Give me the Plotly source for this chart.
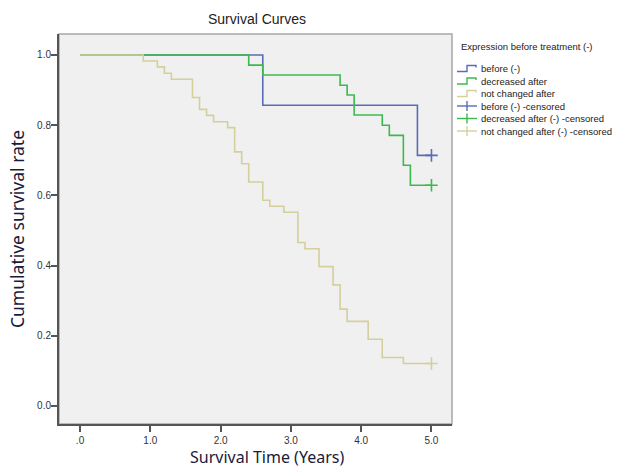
import plotly.graph_objects as go

# ---- data ----
before_t = [0.0, 2.6, 4.8, 5.0]
before_s = [1.0, 0.857, 0.714, 0.714]

decreased_t = [0.0, 2.4, 2.6, 3.7, 3.8, 3.9, 4.3, 4.4, 4.6, 4.7, 5.0]
decreased_s = [1.0, 0.971, 0.943, 0.914, 0.886, 0.829, 0.800, 0.771, 0.686, 0.629, 0.629]

notchanged_t = [0.0, 0.9, 1.1, 1.2, 1.3, 1.6, 1.7, 1.8, 1.9, 2.1, 2.2, 2.3, 2.4, 2.6, 2.7,
                2.9, 3.1, 3.2, 3.4, 3.6, 3.7, 3.8, 4.1, 4.3, 4.6, 5.0]
notchanged_s = [1.0, 0.983, 0.966, 0.948, 0.931, 0.879, 0.845, 0.828, 0.810, 0.793, 0.724,
                0.690, 0.638, 0.586, 0.569, 0.552, 0.466, 0.448, 0.397, 0.345, 0.276, 0.241,
                0.190, 0.138, 0.121, 0.121]

censor_t = [5.0, 5.0, 5.0]
censor_s = [0.714, 0.629, 0.121]

series_names = ["before (-)", "decreased after", "not changed after"]
censor_names = ["before (-) -censored", "decreased after (-) -censored",
                "not changed after (-) -censored"]
x_tickvals = [0, 1, 2, 3, 4, 5]
x_ticktext = [".0", "1.0", "2.0", "3.0", "4.0", "5.0"]
y_tickvals = [0.0, 0.2, 0.4, 0.6, 0.8, 1.0]
y_ticktext = ["0.0", "0.2", "0.4", "0.6", "0.8", "1.0"]

colors = ["#5a6cb8", "#3cb94e", "#d4cf9b"]

W, H = 628, 468
L, R, T, B = 59, 452, 34, 424  # plot frame in px

fig = go.Figure()
curves = [(before_t, before_s), (decreased_t, decreased_s), (notchanged_t, notchanged_s)]
for (t, s), name, c in zip(curves, series_names, colors):
    fig.add_trace(go.Scatter(x=t, y=s, mode="lines", line=dict(color=c, width=1.6, shape="hv"),
                             name=name, showlegend=False, hoverinfo="x+y+name"))
for i, (name, c) in enumerate(zip(censor_names, colors)):
    fig.add_trace(go.Scatter(x=[censor_t[i]], y=[censor_s[i]], mode="markers",
                             marker=dict(symbol="cross-thin", size=9, line=dict(color=c, width=1.6)),
                             name=name, showlegend=False))

def px2x(px):
    return (px - L) / (R - L)

def py2y(py):
    return (B - py) / (B - T)

shapes = [dict(type="rect", xref="paper", yref="paper", x0=0, x1=1, y0=0, y1=1,
               line=dict(color="#a6a6a6", width=1.5), layer="below")]
annotations = []

LEG_FONT = dict(size=9.5, color="#222", family="Liberation Sans")
annotations.append(dict(text="Expression before treatment (-)", xref="paper", yref="paper",
                        x=px2x(459), y=py2y(46), xanchor="left", yanchor="middle",
                        showarrow=False, font=LEG_FONT))
legend_rows = [68.5, 81, 93.5, 106, 118.5, 131]
names_all = series_names + censor_names
cols_all = colors + colors
for k, (yy, name, c) in enumerate(zip(legend_rows, names_all, cols_all)):
    if k < 3:
        path = "M {} {} L {} {} L {} {} L {} {} L {} {}".format(
            px2x(457), py2y(yy + 3), px2x(467), py2y(yy + 3), px2x(467), py2y(yy - 3),
            px2x(476), py2y(yy - 3), px2x(476), py2y(yy - 1))
        shapes.append(dict(type="path", xref="paper", yref="paper", path=path,
                           line=dict(color=c, width=1.4)))
    else:
        shapes.append(dict(type="line", xref="paper", yref="paper", x0=px2x(457), x1=px2x(477),
                           y0=py2y(yy), y1=py2y(yy), line=dict(color=c, width=1.4)))
        shapes.append(dict(type="line", xref="paper", yref="paper", x0=px2x(467), x1=px2x(467),
                           y0=py2y(yy - 5), y1=py2y(yy + 5), line=dict(color=c, width=1.4)))
    annotations.append(dict(text=name, xref="paper", yref="paper", x=px2x(479), y=py2y(yy),
                            xanchor="left", yanchor="middle", showarrow=False, font=LEG_FONT))

TITLE_FONT_X = dict(size=16, color="#1a1a3a", family="Noto Sans")
TITLE_FONT_Y = dict(size=17.5, color="#1a1a3a", family="Noto Sans")
# axis titles (placed to match the reference)
annotations.append(dict(text="Survival Time (Years)", xref="paper", yref="paper",
                        x=px2x(267), y=py2y(457), xanchor="center", yanchor="middle",
                        showarrow=False, font=TITLE_FONT_X))
annotations.append(dict(text="Cumulative survival rate", xref="paper", yref="paper",
                        x=px2x(17), y=py2y(229), xanchor="center", yanchor="middle",
                        textangle=-90, showarrow=False, font=TITLE_FONT_Y))

fig.update_layout(
    width=W, height=H,
    margin=dict(l=L, r=W - R, t=T, b=H - B, autoexpand=False),
    paper_bgcolor="white", plot_bgcolor="#f0f0f0",
    title=dict(text="Survival Curves", x=257 / W, xanchor="center", xref="container",
               y=1 - 19 / H, yanchor="middle", yref="container", automargin=False,
               font=dict(size=14, color="#222", family="Liberation Sans")),
    showlegend=False,
    shapes=shapes, annotations=annotations,
)
fig.update_xaxes(range=[-0.299, 5.292], tickvals=x_tickvals, ticktext=x_ticktext,
                 automargin=False,
                 showgrid=False, zeroline=False, showline=True, linecolor="#555", linewidth=2,
                 ticks="outside", ticklen=6, tickcolor="#555", tickwidth=1.5,
                 tickfont=dict(size=10, color="#333", family="Liberation Sans"))
fig.update_yaxes(range=[-0.0513, 1.0598], tickvals=y_tickvals, ticktext=y_ticktext,
                 automargin=False, ticklabelstandoff=-2,
                 showgrid=False, zeroline=False, showline=True, linecolor="#555", linewidth=2,
                 ticks="outside", ticklen=6, tickcolor="#555", tickwidth=1.5,
                 tickfont=dict(size=10, color="#333", family="Liberation Sans"))

fig.write_html("out.html", config={"displayModeBar": False},
               post_script="document.body.style.margin='0px';document.body.style.overflow='hidden';")
